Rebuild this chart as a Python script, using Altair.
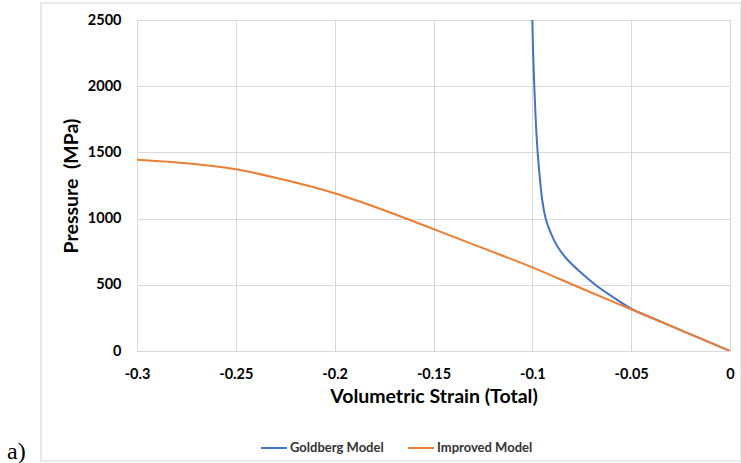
import altair as alt
import pandas as pd

# Goldberg model: pressure rises steeply near -0.1 volumetric strain
goldberg_strain = [0.0, -0.025, -0.045, -0.0489, -0.0595, -0.0675, -0.0750, -0.0821,
                   -0.0872, -0.0906, -0.0932, -0.0950, -0.0961, -0.0973, -0.0983,
                   -0.0990, -0.0996, -0.1000]
goldberg_pressure = [0, 158, 285, 310, 410, 493, 587, 687,
                     788, 889, 997, 1141, 1291, 1500, 1750,
                     2000, 2250, 2500]

# Improved model: smooth S-shaped response over the full strain range
improved_strain = [0.0, -0.025, -0.05, -0.075, -0.1, -0.125, -0.15, -0.175,
                   -0.2, -0.225, -0.25, -0.275, -0.3]
improved_pressure = [0, 158, 315, 472, 632, 777, 921, 1063,
                     1191, 1291, 1372, 1418, 1445]

series_names = ["Goldberg Model", "Improved Model"]
series_colors = ["#4472C4", "#ED7D31"]

x_ticks = [-0.3, -0.25, -0.2, -0.15, -0.1, -0.05, 0]
y_ticks = [0, 500, 1000, 1500, 2000, 2500]

df = pd.concat([
    pd.DataFrame({"strain": goldberg_strain, "pressure": goldberg_pressure,
                  "model": series_names[0]}),
    pd.DataFrame({"strain": improved_strain, "pressure": improved_pressure,
                  "model": series_names[1]}),
])

FONT = "Lato"
GRID = "#D9D9D9"

lines = alt.Chart(df).mark_line(strokeWidth=2, interpolate="catmull-rom", clip=True).encode(
    x=alt.X("strain:Q",
            scale=alt.Scale(domain=[-0.3, 0], nice=False, zero=False),
            axis=alt.Axis(values=x_ticks,
                          title="Volumetric Strain (Total)",
                          labelExpr="datum.value == 0 ? '0' : '-' + format(-datum.value, '.2~f')",
                          labelFlush=False,
                          grid=True, gridColor=GRID, domainColor=GRID,
                          ticks=False, labelPadding=16, labelFontSize=14.5,
                          labelFontWeight="bold", labelColor="#000",
                          titleFontSize=19.5, titleFontWeight="bold", titleColor="#000",
                          titlePadding=7, labelFont=FONT, titleFont=FONT)),
    y=alt.Y("pressure:Q",
            scale=alt.Scale(domain=[0, 2500], nice=False),
            axis=alt.Axis(values=y_ticks, format="d",
                          title="Pressure\u00a0\u00a0(MPa)",
                          grid=True, gridColor=GRID, domain=False,
                          ticks=False, labelPadding=16, labelFontSize=14.5,
                          labelFontWeight="bold", labelColor="#000",
                          titleFontSize=19.5, titleFontWeight="bold", titleColor="#000",
                          titlePadding=6, labelFont=FONT, titleFont=FONT)),
    color=alt.Color("model:N",
                    scale=alt.Scale(domain=series_names, range=series_colors),
                    legend=alt.Legend(title=None, orient="none", direction="horizontal",
                                      legendX=123, legendY=414,
                                      symbolType="stroke", symbolSize=676,
                                      symbolStrokeWidth=2, labelFontSize=13,
                                      labelFontWeight="bold", labelFont=FONT,
                                      labelColor="#333", columnPadding=20,
                                      labelOffset=2)),
    order=alt.Order("strain:Q"),
)

# outer frame around the chart
frame = alt.Chart(pd.DataFrame({"k": [0]})).mark_rect(
    fill=None, stroke=GRID, strokeWidth=1.2, clip=False
).encode(x=alt.value(-96), x2=alt.value(604), y=alt.value(-17), y2=alt.value(441))

panel_tag = alt.Chart(pd.DataFrame({"t": ["a)"]})).mark_text(
    font="Liberation Serif", fontSize=24, align="left", baseline="alphabetic",
    color="#000", clip=False
).encode(x=alt.value(-130), y=alt.value(439), text="t:N")

chart = alt.layer(frame, lines, panel_tag).properties(
    width=593, height=331,
    padding={"left": 137, "top": 20, "right": 11, "bottom": 112},
    autosize=alt.AutoSizeParams(type="none"),
).configure_view(stroke=None).configure(background="white")

chart.save("out.html", embed_options={"renderer": "svg", "actions": False})
